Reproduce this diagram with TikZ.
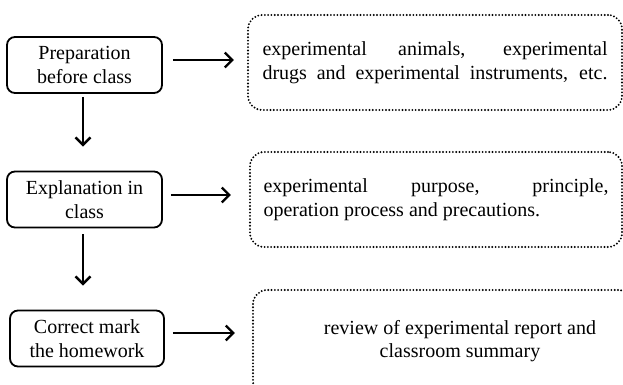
\documentclass[tikz,border=0pt]{standalone}
\usepackage{fontspec}
\setmainfont{Liberation Serif}
\usetikzlibrary{arrows.meta}
\begin{document}
\begin{tikzpicture}[x=1pt,y=-1pt,
  solidbox/.style={draw, line width=1.8pt, rounded corners=8pt, minimum width=155pt,
    minimum height=56pt, inner sep=0pt, align=center, font=\fontsize{20}{24}\selectfont},
  dotbox/.style={draw, line width=2.1pt, line cap=round, dash pattern=on 0pt off 3.3pt,
    rounded corners=14pt, inner sep=0pt},
  body/.style={font=\fontsize{20}{23.5}\selectfont, text width=345pt, align=justify},
  arr/.style={line width=2.4pt, -{Straight Barb[length=7.5pt,width=15pt,line width=2.4pt]}}]
\useasboundingbox (0,0) rectangle (623,385);
\clip (0,0) rectangle (623,385);

% left solid boxes
\node[solidbox] (p1) at (84.5,65) {Preparation\\before class};
\node[solidbox] (p2) at (84.5,199.5) {Explanation in\\class};
\node[solidbox, minimum width=154pt] (p3) at (87,338.5) {Correct mark\\the homework};

% right dotted boxes
\node[dotbox, body, minimum width=374pt, minimum height=95pt] (d1) at (435,62.5)
  {experimental animals, experimental\linebreak drugs and experimental instruments, etc.\parfillskip=0pt\par};
\node[dotbox, body, minimum width=372pt, minimum height=95pt] (d2) at (436,199.5)
  {experimental purpose, principle,\linebreak operation process and precautions.};
\node[dotbox, minimum width=379pt, minimum height=105pt] (d3) at (442.5,342.5) {};
\node[font=\fontsize{20}{22.5}\selectfont, align=center, inner sep=0pt] (t3) at (460,341)
  {review of experimental report and\\classroom summary};

% horizontal arrows
\draw[arr, shorten <=10pt, shorten >=13pt] (p1.east |- 0,60) -- (d1.west |- 0,60);
\draw[arr, shorten <=8pt, shorten >=18pt] (p2.east |- 0,195) -- (d2.west |- 0,195);
\draw[arr, shorten <=8pt, shorten >=17pt] (p3.east |- 0,333) -- (d3.west |- 0,333);

% vertical arrows
\draw[arr, shorten <=3pt, shorten >=24pt] (p1.south -| 83,0) -- (p2.north -| 83,0);
\draw[arr, shorten <=6pt, shorten >=24pt] (p2.south -| 83,0) -- (p3.north -| 83,0);
\end{tikzpicture}
\end{document}
